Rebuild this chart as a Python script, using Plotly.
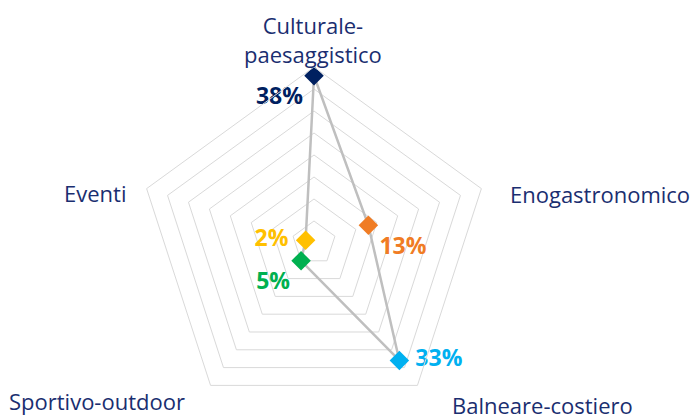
import plotly.graph_objects as go

# Tourism segment shares (%)
categories = ["Culturale-paesaggistico", "Enogastronomico", "Balneare-costiero",
              "Sportivo-outdoor", "Eventi"]
category_labels = ["Culturale-<br>paesaggistico", "Enogastronomico", "Balneare-costiero",
                   "Sportivo-outdoor", "Eventi"]
shares = [38, 13, 33, 5, 2]
point_colors = ["#002060", "#F07C24", "#00B0F0", "#00B050", "#FFC000"]
ring_levels = [5, 10, 15, 20, 25, 30, 35, 40]

W, H = 691, 419
CX, CY, R = 314, 243, 176          # polar centre / radius in pixels
FONT = "Open Sans"
NAVY = "#1A2E70"

fig = go.Figure()

# closed outline joining the points
fig.add_trace(go.Scatterpolar(
    r=shares + shares[:1],
    theta=categories + categories[:1],
    mode="lines",
    line=dict(color="#BFBFBF", width=2.5),
    hoverinfo="skip",
    showlegend=False,
))

# value labels (invisible carrier markers set the gap between label and diamond)
fig.add_trace(go.Scatterpolar(
    r=shares,
    theta=categories,
    mode="markers+text",
    marker=dict(size=[16, 16, 24, 16, 26], color="rgba(0,0,0,0)",
                line=dict(width=0, color="rgba(0,0,0,0)")),
    text=[f"{v}%" for v in shares],
    textposition=["bottom left", "bottom right", "middle right", "bottom left", "middle left"],
    textfont=dict(family=FONT, size=23, color=point_colors, weight="bold"),
    hoverinfo="skip",
    showlegend=False,
))

# diamonds
fig.add_trace(go.Scatterpolar(
    r=shares,
    theta=categories,
    mode="markers",
    marker=dict(symbol="diamond", size=15, color=point_colors, line=dict(width=0)),
    showlegend=False,
))

fig.update_layout(
    width=W, height=H,
    margin=dict(l=0, r=0, t=0, b=0),
    paper_bgcolor="white",
    polar=dict(
        domain=dict(x=[(CX - R) / W, (CX + R) / W],
                    y=[(H - CY - R) / H, (H - CY + R) / H]),
        gridshape="linear",
        bgcolor="white",
        radialaxis=dict(range=[0, 40], tickvals=ring_levels, showticklabels=False,
                        ticks="", showline=False, gridcolor="#D9D9D9", gridwidth=1),
        angularaxis=dict(rotation=90, direction="clockwise",
                         categoryorder="array", categoryarray=categories,
                         showticklabels=False, ticks="", showgrid=False,
                         showline=True, linecolor="#D9D9D9", linewidth=1),
    ),
)

# category labels around the web
label_spots = [
    (313, 40, "center"),
    (508, 194, "left"),
    (450, 405, "left"),
    (7, 401, "left"),
    (128, 193, "right"),
]
for text, (px, py, anchor) in zip(category_labels, label_spots):
    fig.add_annotation(
        x=px / W, y=1 - py / H, xref="paper", yref="paper",
        text=text, showarrow=False, xanchor=anchor, yanchor="middle",
        font=dict(family=FONT, size=22, color=NAVY),
    )

fig.write_html("out.html")
